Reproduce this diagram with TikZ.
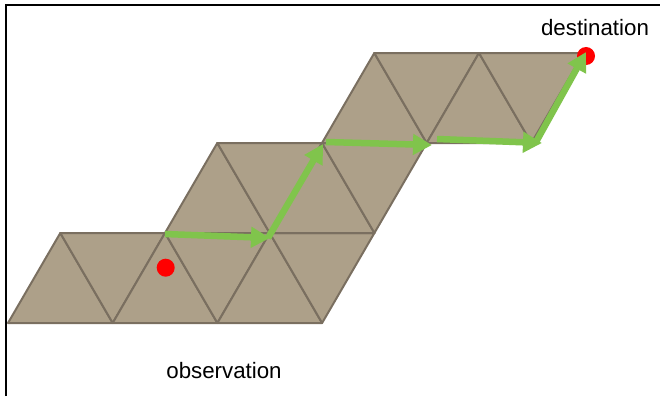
\documentclass[tikz,border=0pt]{standalone}
\usepackage{fontspec}
\setmainfont{Liberation Sans}
\usetikzlibrary{arrows.meta}
\definecolor{tanfill}{RGB}{173,160,137}
\definecolor{tanedge}{RGB}{122,111,96}
\definecolor{pathgreen}{RGB}{128,196,76}
\begin{document}
\begin{tikzpicture}[x=1pt,y=-1pt,
  tri/.style={fill=tanfill,draw=tanedge,line width=2pt,line join=round},
  dot/.style={circle,fill=red,inner sep=0pt,minimum size=18pt},
  hop/.style={draw=pathgreen,line width=6.5pt,-{Triangle[length=19pt,width=20pt]}},
  lbl/.style={font=\fontsize{22.3}{26}\selectfont,inner sep=0pt,anchor=base}]
\useasboundingbox (0,0) rectangle (660,396);
\draw[line width=2pt] (6,396) -- (6,5.2) -- (660,5.2);
% lattice points
\foreach \i in {0,...,5}{\foreach \j in {0,...,3}{
  \coordinate (p-\i-\j) at ({8+104.7*\i+52.3*\j},{323-90*\j});}}
% triangles: row j, i range
\foreach \j/\a/\b in {0/0/2,1/1/2,2/2/3}{
  \foreach \i in {\a,...,\b}{
    \pgfmathtruncatemacro{\ii}{\i+1}
    \pgfmathtruncatemacro{\jj}{\j+1}
    \draw[tri] (p-\i-\j) -- (p-\ii-\j) -- (p-\i-\jj) -- cycle;
    \draw[tri] (p-\i-\jj) -- (p-\ii-\jj) -- (p-\ii-\j) -- cycle;
  }}
% dots
\node[dot] (obs) at (165.7,267.7) {};
\node[dot] (dest) at (586,56) {};
% path coordinates
\coordinate (s1) at (165,234);
\coordinate (e1) at (270,238);
\coordinate (s2) at (268,238);
\coordinate (e2) at (323,144);
\coordinate (s3) at (326,142);
\coordinate (e3) at (432,145);
\coordinate (s4) at (437,139);
\coordinate (e4) at (542,143);
\coordinate (s5) at (536,142);
\coordinate (e5) at (586,52);
\draw[hop] (s1) -- (e1);
\draw[hop] (s2) -- (e2);
\draw[hop] (s3) -- (e3);
\draw[hop] (s4) -- (e4);
\draw[hop] (s5) -- (e5);
% labels
\node[lbl] (destlbl) at (595,36) {destination};
\node[lbl] (obslbl) at (224,378) {observation};
\end{tikzpicture}
\end{document}
